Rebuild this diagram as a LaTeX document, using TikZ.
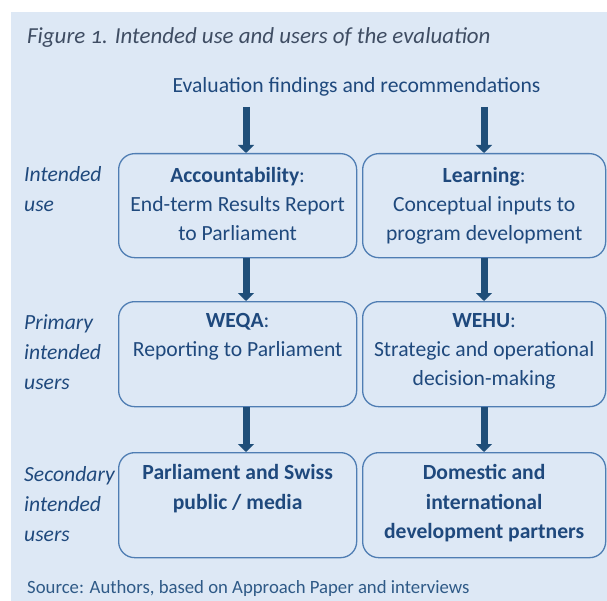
\documentclass[tikz,border=0pt]{standalone}
\usepackage{fontspec}
\setmainfont{Carlito}
\newfontfamily\titlefont[Numbers=OldStyle]{Carlito}
\usetikzlibrary{arrows.meta}
\definecolor{bgc}{HTML}{DDE8F5}
\definecolor{txt}{HTML}{1F497D}
\definecolor{arr}{HTML}{1F4E79}
\definecolor{bord}{HTML}{4F7DB3}
\definecolor{ttl}{HTML}{3F4D63}
\definecolor{srcc}{HTML}{2F5A87}
\begin{document}
\begin{tikzpicture}[x=1bp,y=-1bp,
  box/.style={draw=bord, line width=1.3bp, rounded corners=16bp, anchor=north west, inner sep=0pt},
  boxtext/.style={text=txt, align=center, anchor=north, inner sep=0pt, font=\fontsize{21.7}{29.5}\selectfont},
  sidelabel/.style={text=txt, align=left, anchor=north west, inner sep=0pt, font=\fontsize{21.7}{30.5}\selectfont\itshape},
  flow/.style={draw=arr, line width=7bp, -{Triangle[width=16bp,length=8bp]}}]
\useasboundingbox (0,0) rectangle (607,601);
\fill[bgc] (11,12) rectangle (607,601);
% title and source
\node[anchor=base west, inner sep=0pt, text=ttl, font=\fontsize{23}{28}\selectfont\titlefont\itshape] (title) at (27,44) {Figure 1. Intended use and users of the evaluation};
\node[anchor=base west, inner sep=0pt, text=srcc, font=\fontsize{18.8}{22}\selectfont] (source) at (27,593) {Source: Authors, based on Approach Paper and interviews};
\node[anchor=base, inner sep=0pt, text=txt, font=\fontsize{21.7}{26}\selectfont] (src) at (356.5,93) {Evaluation findings and recommendations};
% boxes
\node[box, minimum width=238bp, minimum height=104bp] (b11) at (118,153) {};
\node[box, minimum width=243bp, minimum height=104bp] (b12) at (362,153) {};
\node[box, minimum width=238bp, minimum height=105bp] (b21) at (118,301) {};
\node[box, minimum width=243bp, minimum height=105bp] (b22) at (362,301) {};
\node[box, minimum width=238bp, minimum height=105bp] (b31) at (118,452) {};
\node[box, minimum width=243bp, minimum height=105bp] (b32) at (362,452) {};
% box texts
\node[boxtext] (t11) at ([yshift=-13bp]b11.north) {\rule{0pt}{16bp}\textbf{Accountability}:\\End-term Results Report\\to Parliament};
\node[boxtext] (t12) at ([yshift=-13bp]b12.north) {\rule{0pt}{16bp}\textbf{Learning}:\\Conceptual inputs to\\program development};
\node[boxtext] (t21) at ([yshift=-10bp]b21.north) {\rule{0pt}{16bp}\textbf{WEQA}:\\Reporting to Parliament};
\node[boxtext] (t22) at ([yshift=-10bp]b22.north) {\rule{0pt}{16bp}\textbf{WEHU}:\\Strategic and operational\\decision-making};
\node[boxtext, font=\fontsize{21.7}{30}\selectfont\bfseries] (t31) at ([yshift=-11bp]b31.north) {\rule{0pt}{16bp}Parliament and Swiss\\public / media};
\node[boxtext, font=\fontsize{21.7}{30}\selectfont\bfseries] (t32) at ([yshift=-11bp]b32.north) {\rule{0pt}{16bp}Domestic and\\international\\development partners};
% side labels
\node[sidelabel] (l1) at (24,165) {\rule{0pt}{16bp}Intended\\use};
\node[sidelabel] (l2) at (24,313) {\rule{0pt}{16bp}Primary\\intended\\users};
\node[sidelabel] (l3) at (24,465) {\rule{0pt}{16bp}Secondary\\intended\\users};
% arrows
\coordinate (cl) at (246,0);
\coordinate (cr) at (484,0);
\draw[flow, shorten <=10bp] (src.south -| cl) -- (b11.north -| cl);
\draw[flow, shorten <=10bp] (src.south -| cr) -- (b12.north -| cr);
\draw[flow] (b11.south -| cl) -- (b21.north -| cl);
\draw[flow] (b12.south -| cr) -- (b22.north -| cr);
\draw[flow] (b21.south -| cl) -- (b31.north -| cl);
\draw[flow] (b22.south -| cr) -- (b32.north -| cr);
\end{tikzpicture}
\end{document}
